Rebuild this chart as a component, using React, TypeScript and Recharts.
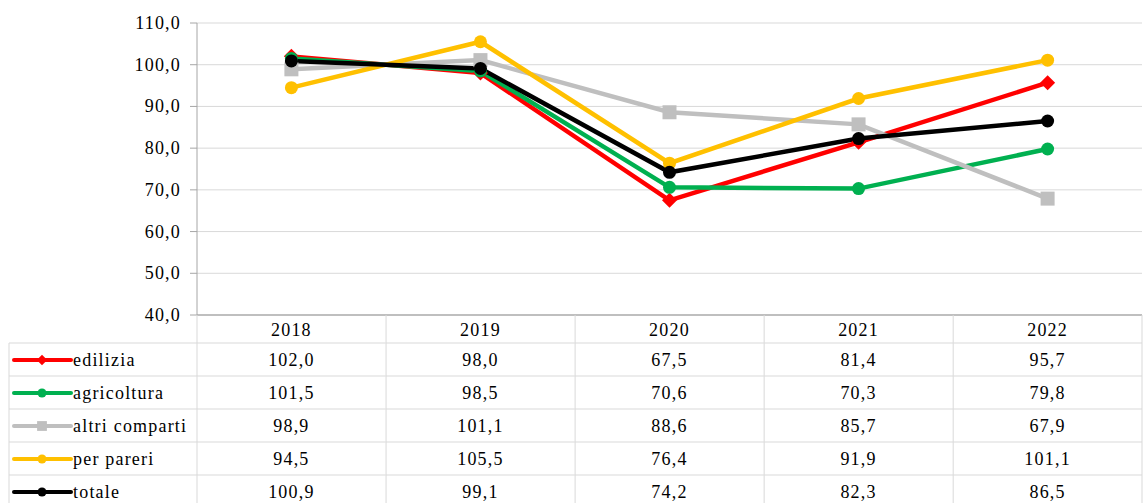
import React from 'react';
import { LineChart, Line, XAxis, YAxis, CartesianGrid } from 'recharts';

const years = ['2018', '2019', '2020', '2021', '2022'];
const edilizia = [102.0, 98.0, 67.5, 81.4, 95.7];
const agricoltura = [101.5, 98.5, 70.6, 70.3, 79.8];
const altriComparti = [98.9, 101.1, 88.6, 85.7, 67.9];
const perPareri = [94.5, 105.5, 76.4, 91.9, 101.1];
const totale = [100.9, 99.1, 74.2, 82.3, 86.5];
const yTicks = [40, 50, 60, 70, 80, 90, 100, 110];

const series = [
  { key: 'edilizia', name: 'edilizia', color: '#ff0000', values: edilizia, shape: 'diamond' },
  { key: 'agricoltura', name: 'agricoltura', color: '#00b050', values: agricoltura, shape: 'circle' },
  { key: 'altri', name: 'altri comparti', color: '#bfbfbf', values: altriComparti, shape: 'square' },
  { key: 'pareri', name: 'per pareri', color: '#ffc000', values: perPareri, shape: 'circle' },
  { key: 'totale', name: 'totale', color: '#000000', values: totale, shape: 'circle' },
];

const data = years.map((y, i) => {
  const row: any = { year: y };
  series.forEach((s) => (row[s.key] = s.values[i]));
  return row;
});

const FONT = 'Liberation Serif';
const FS = 18;
const LS = 1.2;
const GRID = '#d9d9d9';
const HEADER_H = 28;
const ROW_H = 33;
const LEGEND_W = 188;
const PLOT_W = 1143 - 197 - 2;
const HALF = PLOT_W / years.length / 2;

const fmt = (v: number) => v.toFixed(1).replace('.', ',');

function Marker({ shape, cx, cy, color, s = 1 }: any) {
  if (cx == null || cy == null) return null;
  if (shape === 'square') {
    const h = 7 * s;
    return <rect x={cx - h} y={cy - h} width={2 * h} height={2 * h} fill={color} />;
  }
  if (shape === 'diamond') {
    const h = 7.5 * s;
    return <polygon points={`${cx},${cy - h} ${cx + h},${cy} ${cx},${cy + h} ${cx - h},${cy}`} fill={color} />;
  }
  return <circle cx={cx} cy={cy} r={6.5 * s} fill={color} />;
}

const txtStyle: any = { fontFamily: FONT, fontSize: FS, letterSpacing: LS };

function TableTick(props: any) {
  const { x, y, payload, index } = props;
  const left = x - HALF;
  const right = x + HALF;
  const bottom = y + 220;
  return (
    <g>
      <line x1={left} x2={left} y1={y} y2={bottom} stroke={GRID} strokeWidth={1} />
      {index === years.length - 1 && <line x1={right} x2={right} y1={y} y2={bottom} stroke={GRID} strokeWidth={1} />}
      {series.map((s, r) => (
        <line key={'h' + r} x1={left} x2={right} y1={y + HEADER_H + r * ROW_H} y2={y + HEADER_H + r * ROW_H} stroke={GRID} strokeWidth={1} />
      ))}
      <text x={x} y={y + 15} textAnchor="middle" dominantBaseline="central" fill="#000" fontFamily={FONT} style={txtStyle}>
        {payload.value}
      </text>
      {series.map((s, r) => (
        <text key={'t' + r} x={x} y={y + HEADER_H + r * ROW_H + 17} textAnchor="middle" dominantBaseline="central" fill="#000" fontFamily={FONT} style={txtStyle}>
          {fmt(s.values[index])}
        </text>
      ))}
      {index === 0 && (
        <g>
          <line x1={left - LEGEND_W} x2={left - LEGEND_W} y1={y + HEADER_H} y2={bottom} stroke={GRID} strokeWidth={1} />
          {series.map((s, r) => {
            const cy = y + HEADER_H + r * ROW_H + 17;
            const lx = left - LEGEND_W;
            return (
              <g key={'l' + r}>
                <line x1={lx} x2={left} y1={y + HEADER_H + r * ROW_H} y2={y + HEADER_H + r * ROW_H} stroke={GRID} strokeWidth={1} />
                <line x1={lx + 5} x2={lx + 62} y1={cy} y2={cy} stroke={s.color} strokeWidth={4} strokeLinecap="round" />
                <Marker shape={s.shape} cx={lx + 33} cy={cy} color={s.color} s={0.7} />
                <text x={lx + 64} y={cy} textAnchor="start" dominantBaseline="central" fill="#000" fontFamily={FONT} style={txtStyle}>
                  {s.name}
                </text>
              </g>
            );
          })}
        </g>
      )}
    </g>
  );
}

function YTick(props: any) {
  const { x, y, payload } = props;
  return (
    <text x={x} y={y} textAnchor="end" dominantBaseline="central" fill="#000" fontFamily={FONT} style={txtStyle}>
      {fmt(payload.value)}
    </text>
  );
}

export default function App() {
  return (
    <div style={{ position: 'absolute', left: 0, top: 0, background: '#fff', fontFamily: FONT }}>
      <LineChart width={1143} height={503} data={data} margin={{ top: 23, right: 1, left: 1, bottom: 0 }}>
        <CartesianGrid vertical={false} stroke={GRID} strokeWidth={1} />
        <XAxis
          dataKey="year"
          interval={0}
          height={188}
          tickSize={0}
          tickMargin={0}
          padding={{ left: HALF, right: HALF }}
          axisLine={{ stroke: '#bfbfbf', strokeWidth: 2 }}
          tickLine={false}
          tick={(p: any) => <TableTick {...p} />}
        />
        <YAxis
          domain={[40, 110]}
          ticks={yTicks}
          width={196}
          tickSize={7}
          tickMargin={9}
          interval={0}
          axisLine={{ stroke: '#a6a6a6', strokeWidth: 1 }}
          tickLine={{ stroke: '#a6a6a6' }}
          tick={(p: any) => <YTick {...p} />}
        />
        {series.map((s) => (
          <Line
            key={s.key}
            dataKey={s.key}
            name={s.name}
            stroke={s.color}
            strokeWidth={4.5}
            isAnimationActive={false}
            dot={(p: any) => <Marker key={s.key + p.index} shape={s.shape} cx={p.cx} cy={p.cy} color={s.color} />}
            activeDot={false}
          />
        ))}
      </LineChart>
    </div>
  );
}
